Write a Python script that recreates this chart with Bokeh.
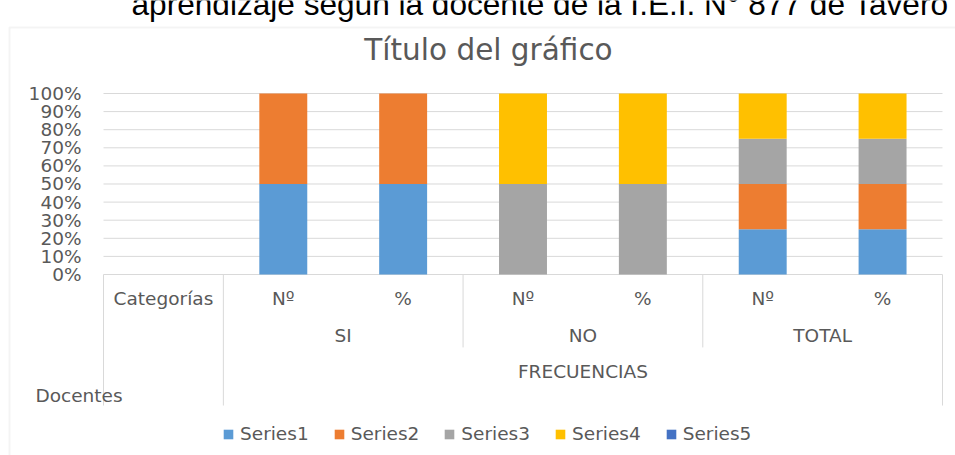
from bokeh.plotting import figure
from bokeh.models import (ColumnDataSource, Range1d, FixedTicker, NumeralTickFormatter,
                          Label, Legend, LegendItem, BoxAnnotation)
from bokeh.core.properties import value
from bokeh.embed import file_html
from bokeh.resources import INLINE

# ---------------- data ----------------
categories = ["Categorías", "Nº", "%", "Nº", "%", "Nº", "%"]
groups = ["SI", "NO", "TOTAL"]
outer_group = ["FRECUENCIAS"]
axis_title = "Docentes"
series_names = ["Series1", "Series2", "Series3", "Series4", "Series5"]
series1 = [0, 50, 50, 0, 0, 25, 25]
series2 = [0, 50, 50, 0, 0, 25, 25]
series3 = [0, 0, 0, 50, 50, 25, 25]
series4 = [0, 0, 0, 50, 50, 25, 25]
series5 = [0, 0, 0, 0, 0, 0, 0]
colors = ["#5B9BD5", "#ED7D31", "#A5A5A5", "#FFC000", "#4472C4"]
yticks = [0, 0.1, 0.2, 0.3, 0.4, 0.5, 0.6, 0.7, 0.8, 0.9, 1.0]
chart_title = "Título del gráfico"
caption = "aprendizaje según la docente de la I.E.I. N° 877 de Tavero"

TXT = "#595959"
GRID = "#D9D9D9"
FONT = "DejaVu Sans"

n = len(categories)
xs = [i + 0.5 for i in range(n)]
all_series = [series1, series2, series3, series4, series5]
totals = [sum(s[i] for s in all_series) for i in range(n)]
data = {"x": xs}
for name, vals in zip(series_names, all_series):
    data[name] = [v / t if t else 0 for v, t in zip(vals, totals)]
src = ColumnDataSource(data)

p = figure(width=955, height=455, output_backend="svg", toolbar_location=None,
           x_range=Range1d(-0.8594, 7.1085), y_range=Range1d(-1.0, 1.5138),
           min_border_left=0, min_border_right=0, min_border_top=0, min_border_bottom=0)
p.outline_line_color = None
p.xaxis.visible = False
p.xgrid.visible = False
p.ygrid.visible = False
p.yaxis.fixed_location = 0
p.yaxis.ticker = FixedTicker(ticks=yticks)
p.yaxis.formatter = NumeralTickFormatter(format="0%")
p.yaxis.axis_line_color = None
p.yaxis.major_tick_line_color = None
p.yaxis.minor_tick_line_color = None
p.yaxis.major_tick_out = 0
p.yaxis.major_tick_in = 0
p.yaxis.minor_tick_out = 0
p.yaxis.major_label_standoff = 22
p.yaxis.major_label_text_font = FONT
p.yaxis.major_label_text_font_size = "18.5px"
p.yaxis.major_label_text_color = TXT

# horizontal gridlines over the plot area
p.segment(x0=[0] * len(yticks), y0=yticks, x1=[n] * len(yticks), y1=yticks,
          line_color=GRID, line_width=1)

rs = p.vbar_stack(series_names, x="x", width=0.4, color=colors, line_color=None, source=src)

# category table lines
p.segment(x0=[0, 1, 3, 5, 7], y0=[0] * 5, x1=[0, 1, 3, 5, 7],
          y1=[-0.724, -0.724, -0.403, -0.403, -0.724], line_color=GRID, line_width=1)

# level labels
p.text(x=xs, y=[-0.133] * n, text=categories, text_align="center", text_baseline="middle",
       text_font=value(FONT), text_font_size="18.5px", text_color=TXT)
p.text(x=[2, 4, 6], y=[-0.337] * 3, text=groups, text_align="center", text_baseline="middle",
       text_font=value(FONT), text_font_size="18.5px", text_color=TXT)
p.text(x=[4], y=[-0.536], text=outer_group, text_align="center", text_baseline="middle",
       text_font=value(FONT), text_font_size="18.5px", text_color=TXT)
p.add_layout(Label(x=-0.5674, y=-0.6685, text=axis_title, text_align="left", text_baseline="middle",
                   text_font=FONT, text_font_size="18.5px", text_color=TXT))

# title & caption
p.add_layout(Label(x=3.212, y=1.2376, text=chart_title, text_align="center", text_baseline="middle",
                   text_font=FONT, text_font_size="29.5px", text_color=TXT))
p.add_layout(Label(x=0.2336, y=1.4972, text=caption, text_align="left", text_baseline="alphabetic",
                   text_font="Liberation Sans", text_font_size="31.6px", text_color="#000000"))

# chart border
p.add_layout(BoxAnnotation(left=-0.7843, right=9, top=1.3646, bottom=-3, fill_color=None,
                           fill_alpha=0, line_color=GRID, line_width=2))

legend = Legend(items=[LegendItem(label=nm, renderers=[r]) for nm, r in zip(series_names, rs)],
                orientation="horizontal", location=(222, 11))
legend.glyph_width = 12
legend.glyph_height = 12
legend.label_height = 12
legend.label_standoff = 6
legend.spacing = 24
legend.padding = 0
legend.margin = 0
legend.border_line_color = None
legend.background_fill_alpha = 0
legend.label_text_font = FONT
legend.label_text_font_size = "18.5px"
legend.label_text_color = TXT
p.add_layout(legend)

open("out.html", "w").write(file_html(p, INLINE))
